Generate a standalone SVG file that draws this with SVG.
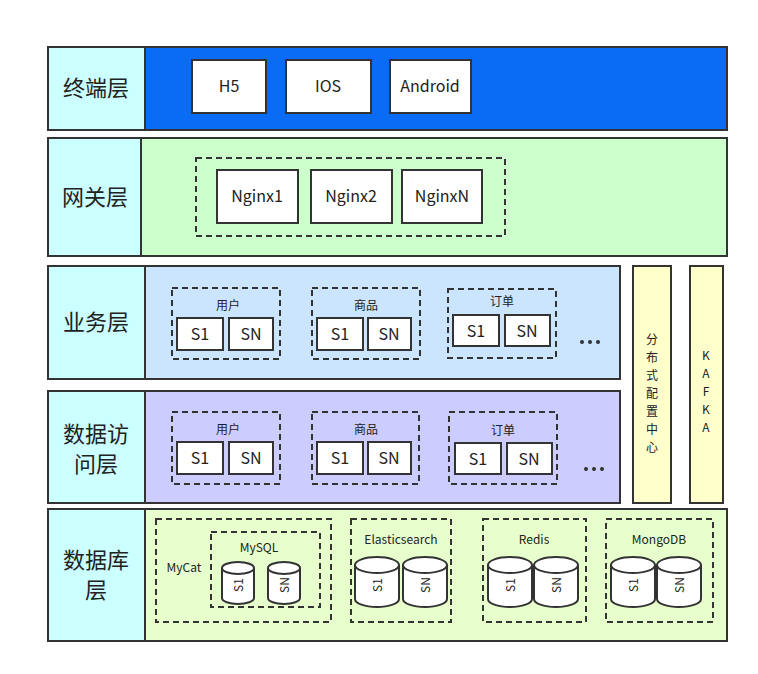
<svg xmlns="http://www.w3.org/2000/svg" width="758" height="674" viewBox="0 0 758 674">
<style>
text{font-family:"Noto Sans CJK SC","Noto Sans",sans-serif;fill:#222;text-anchor:middle}
.lab{fill:#ccffff;stroke:#333;stroke-width:2}
.pan{stroke:#333;stroke-width:2}
.box{fill:#fff;stroke:#333;stroke-width:2}
.dash{fill:none;stroke:#333;stroke-width:2;stroke-dasharray:6 4}
.big{font-size:22px}
.n{font-size:16px}
.s{font-size:12px}
.cyl{fill:#fff;stroke:#333;stroke-width:2}
.dot{fill:#333}
</style>
<defs>
<g id="cylS"><path class="cyl" d="M0,6 A16,6 0 0 1 32,6 V36 A16,6 0 0 1 0,36 Z"/><path class="cyl" d="M0,6 A16,6 0 0 0 32,6" fill="none"/></g>
<g id="cylL"><path class="cyl" d="M0,8 A22,8 0 0 1 44,8 V42 A22,8 0 0 1 0,42 Z"/><path class="cyl" d="M0,8 A22,8 0 0 0 44,8" fill="none"/></g>
<g id="dots"><circle class="dot" cx="0" cy="0" r="2"/><circle class="dot" cx="8" cy="0" r="2"/><circle class="dot" cx="16" cy="0" r="2"/></g>
</defs>
<g id="terminal">
<rect class="lab" x="48" y="47" width="97" height="83"/><text class="big" x="96" y="96">终端层</text>
<rect class="pan" x="145" y="47" width="582" height="83" fill="#0a6cf5"/>
<rect class="box" x="192" y="60" width="74" height="53"/><text class="n" x="229" y="92">H5</text>
<rect class="box" x="286" y="60" width="85" height="53"/><text class="n" x="328" y="92">IOS</text>
<rect class="box" x="390" y="60" width="81" height="53"/><text class="n" x="430" y="92">Android</text>
</g>
<g id="gateway">
<rect class="lab" x="48" y="138" width="93" height="118"/><text class="big" x="95" y="205">网关层</text>
<rect class="pan" x="141" y="138" width="586" height="118" fill="#ccffcc"/>
<rect class="dash" x="196" y="158" width="309" height="78"/>
<rect class="box" x="217" y="170" width="81" height="53"/><text class="n" x="257" y="202">Nginx1</text>
<rect class="box" x="311" y="170" width="81" height="53"/><text class="n" x="351" y="202">Nginx2</text>
<rect class="box" x="402" y="170" width="80" height="53"/><text class="n" x="442" y="202">NginxN</text>
</g>
<g id="business">
<rect class="lab" x="48" y="266" width="97" height="113"/><text class="big" x="96" y="330">业务层</text>
<rect class="pan" x="145" y="266" width="475" height="113" fill="#cce5ff"/>
<rect class="dash" x="172" y="288" width="108" height="71"/><text class="s" x="228" y="310">用户</text>
<rect class="box" x="177" y="318" width="46" height="32"/><text class="n" x="200" y="340">S1</text>
<rect class="box" x="229" y="318" width="44" height="32"/><text class="n" x="251" y="340">SN</text>
<rect class="dash" x="312" y="288" width="108" height="71"/><text class="s" x="366" y="310">商品</text>
<rect class="box" x="317" y="318" width="46" height="32"/><text class="n" x="340" y="340">S1</text>
<rect class="box" x="368" y="318" width="43" height="32"/><text class="n" x="389" y="340">SN</text>
<rect class="dash" x="448" y="289" width="108" height="69"/><text class="s" x="502" y="306">订单</text>
<rect class="box" x="453" y="315" width="46" height="31"/><text class="n" x="476" y="337">S1</text>
<rect class="box" x="505" y="315" width="45" height="31"/><text class="n" x="527" y="337">SN</text>
<use href="#dots" x="582" y="342"/>
</g>
<g id="dataaccess">
<rect class="lab" x="48" y="391" width="97" height="112"/><text class="big" x="96" y="442">数据访</text><text class="big" x="96" y="472">问层</text>
<rect class="pan" x="145" y="391" width="475" height="112" fill="#ccccff"/>
<rect class="dash" x="172" y="412" width="108" height="72"/><text class="s" x="228" y="434">用户</text>
<rect class="box" x="177" y="442" width="46" height="32"/><text class="n" x="200" y="464">S1</text>
<rect class="box" x="229" y="442" width="44" height="32"/><text class="n" x="251" y="464">SN</text>
<rect class="dash" x="312" y="412" width="107" height="72"/><text class="s" x="366" y="434">商品</text>
<rect class="box" x="317" y="442" width="46" height="32"/><text class="n" x="340" y="464">S1</text>
<rect class="box" x="368" y="442" width="43" height="32"/><text class="n" x="389" y="464">SN</text>
<rect class="dash" x="449" y="412" width="108" height="72"/><text class="s" x="503" y="435">订单</text>
<rect class="box" x="455" y="443" width="46" height="31"/><text class="n" x="478" y="465">S1</text>
<rect class="box" x="507" y="443" width="45" height="31"/><text class="n" x="529" y="465">SN</text>
<use href="#dots" x="586" y="469"/>
</g>
<g id="config">
<rect x="633" y="266" width="38" height="237" fill="#ffffcc" stroke="#333" stroke-width="2"/>
<text class="s" x="652" y="344">分</text><text class="s" x="652" y="362">布</text><text class="s" x="652" y="380">式</text><text class="s" x="652" y="398">配</text><text class="s" x="652" y="416">置</text><text class="s" x="652" y="434">中</text><text class="s" x="652" y="452">心</text>
</g>
<g id="kafka">
<rect x="690" y="266" width="33" height="237" fill="#ffffcc" stroke="#333" stroke-width="2"/>
<text class="s" x="706" y="360">K</text><text class="s" x="706" y="378">A</text><text class="s" x="706" y="396">F</text><text class="s" x="706" y="414">K</text><text class="s" x="706" y="432">A</text>
</g>
<g id="database">
<rect class="lab" x="48" y="509" width="97" height="132"/><text class="big" x="96" y="568">数据库</text><text class="big" x="96" y="598">层</text>
<rect class="pan" x="145" y="509" width="582" height="132" fill="#e6ffcc"/>
<rect class="dash" x="156" y="519" width="175" height="103"/><text class="s" x="184" y="572">MyCat</text>
<rect class="dash" x="211" y="532" width="109" height="75"/><text class="s" x="259" y="552">MySQL</text>
<use href="#cylS" x="222" y="562"/><text class="s" transform="translate(243,585) rotate(-90)">S1</text>
<use href="#cylS" x="268" y="562"/><text class="s" transform="translate(289,585) rotate(-90)">SN</text>
<rect class="dash" x="351" y="519" width="100" height="103"/><text class="s" x="401" y="544">Elasticsearch</text>
<use href="#cylL" x="355" y="557"/><text class="s" transform="translate(382,585) rotate(-90)">S1</text>
<use href="#cylL" x="403" y="557"/><text class="s" transform="translate(430,585) rotate(-90)">SN</text>
<rect class="dash" x="483" y="519" width="103" height="103"/><text class="s" x="534" y="544">Redis</text>
<use href="#cylL" x="488" y="557"/><text class="s" transform="translate(515,585) rotate(-90)">S1</text>
<use href="#cylL" x="534" y="557"/><text class="s" transform="translate(561,585) rotate(-90)">SN</text>
<rect class="dash" x="606" y="519" width="107" height="103"/><text class="s" x="659" y="544">MongoDB</text>
<use href="#cylL" x="611" y="557"/><text class="s" transform="translate(638,585) rotate(-90)">S1</text>
<use href="#cylL" x="657" y="557"/><text class="s" transform="translate(684,585) rotate(-90)">SN</text>
</g>
<g id="connectors"/>
</svg>
